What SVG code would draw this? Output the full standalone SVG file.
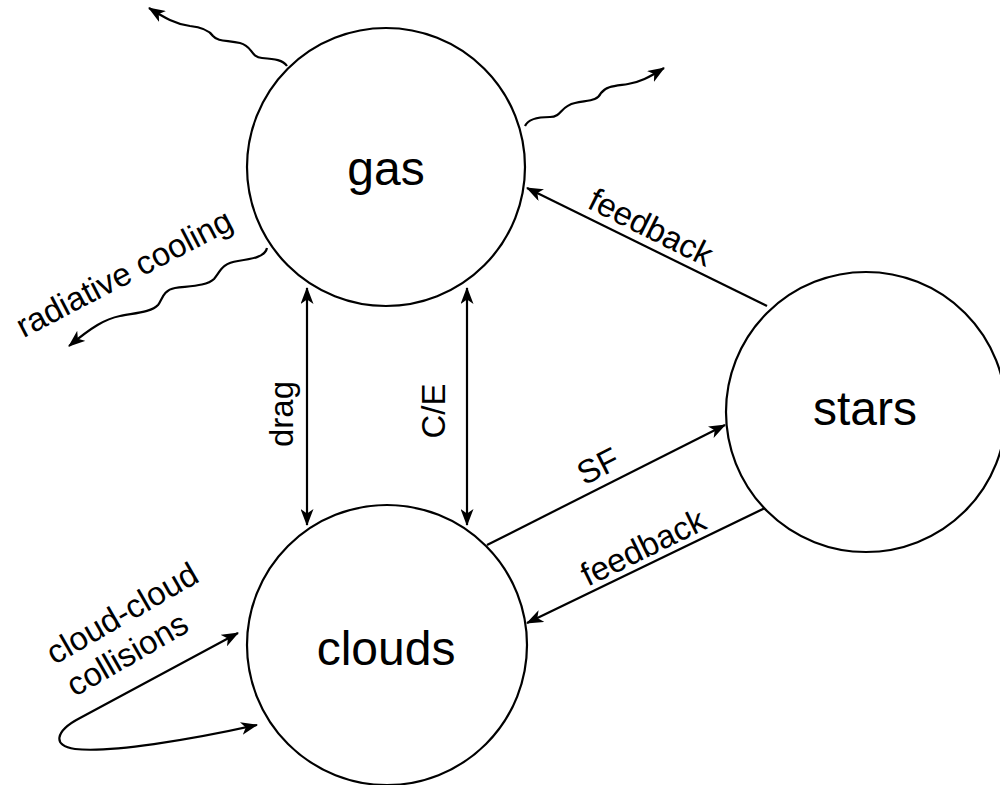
<svg xmlns="http://www.w3.org/2000/svg" width="1000" height="785" viewBox="0 0 1000 785">
<style>
.node{fill:#fff;stroke:#000;stroke-width:2.2}
.big{font-family:"Liberation Sans",Arial,sans-serif;font-size:48px;fill:#000;text-anchor:middle}
.lbl{font-family:"Liberation Sans",Arial,sans-serif;font-size:33px;fill:#000;text-anchor:middle;dominant-baseline:central}
.edge{fill:none;stroke:#000;stroke-width:2.2}
</style>
<defs>
<marker id="ah" markerUnits="userSpaceOnUse" viewBox="0 0 17 13" markerWidth="17" markerHeight="13" refX="16" refY="6.5" orient="auto-start-reverse">
<path d="M17,6.5 L0,0 L4.5,6.5 L0,13 Z" fill="#000"/>
</marker>
</defs>
<rect width="1000" height="785" fill="#fff"/>
<g id="connectors">
<path class="edge" d="M287,66 C283,60 275,59 262,58 C250,57 253,46 240,43 C228,40 218,42 213,36 C208,29 200,27 190,26 C175,24 165,18 149,8" marker-end="url(#ah)"/>
<path class="edge" d="M525,126 C528,119 538,117 550,117 C562,117 560,106 575,103 C590,100 597,101 601,93 C606,86 615,86 628,84 C640,82 648,78 664,68" marker-end="url(#ah)"/>
<path class="edge" d="M267,248 C265,257 252,259 238,261 C222,263 220,272 214,279 C207,286 190,286 175,288 C163,290 162,300 158,305 C152,312 135,313 120,316 C105,319 92,327 69,346" marker-end="url(#ah)"/>
<path class="edge" d="M307,288 L307,525" marker-start="url(#ah)" marker-end="url(#ah)"/>
<path class="edge" d="M467,288 L467,525" marker-start="url(#ah)" marker-end="url(#ah)"/>
<path class="edge" d="M767,306 L527,188" marker-end="url(#ah)"/>
<path class="edge" d="M487,545 L725,425" marker-end="url(#ah)"/>
<path class="edge" d="M767,507 L527,623" marker-end="url(#ah)"/>
<path class="edge" d="M238,633 L80,718 C55,731 52,746 75,749 C110,753 190,740 257,725" marker-start="url(#ah)" marker-end="url(#ah)"/>
<text class="lbl" transform="translate(124,273) rotate(-27.5)">radiative cooling</text>
<text class="lbl" transform="translate(281,414) rotate(-90)">drag</text>
<text class="lbl" transform="translate(433,411) rotate(-90)">C/E</text>
<text class="lbl" transform="translate(651,227) rotate(26.5)">feedback</text>
<text class="lbl" transform="translate(598,466) rotate(-26.8)">SF</text>
<text class="lbl" transform="translate(643,547) rotate(-26)">feedback</text>
<text class="lbl" transform="translate(126,632) rotate(-30)"><tspan x="6" y="-19">cloud-cloud</tspan><tspan x="-10" y="19">collisions</tspan></text>
</g>
<g id="gas">
<circle class="node" cx="386" cy="167" r="139"/>
<text class="big" x="386" y="185">gas</text>
</g>
<g id="clouds">
<circle class="node" cx="387" cy="645" r="140"/>
<text class="big" x="386" y="665">clouds</text>
</g>
<g id="stars">
<circle class="node" cx="866" cy="412" r="140"/>
<text class="big" x="865" y="425">stars</text>
</g>
</svg>
